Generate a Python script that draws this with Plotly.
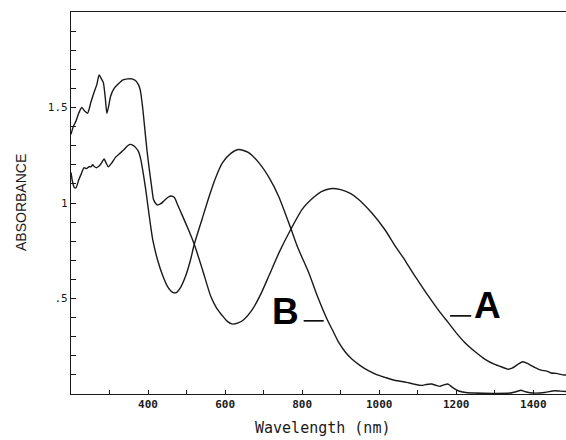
import plotly.graph_objects as go

# Curve A (broad band near 880 nm)
wl_a = [200, 206, 213, 220, 228, 236, 243, 252, 260, 267, 273, 279, 284, 289, 293, 297,
        303, 312, 321, 335, 347, 358, 368, 375, 380, 386, 391, 397, 403, 409, 414, 419,
        424, 432, 441, 452, 460, 468, 477, 490, 505, 520, 541, 563, 578, 593, 606, 619,
        634, 649, 670, 692, 714, 740, 770, 800, 830, 850, 873, 900, 925, 946, 980, 1015,
        1040, 1067, 1084, 1102, 1127, 1150, 1165, 1179, 1200, 1222, 1250, 1274, 1300, 1320,
        1334, 1345, 1360, 1373, 1385, 1395, 1403, 1420, 1435, 1446, 1460, 1477, 1490]
abs_a = [1.36, 1.40, 1.43, 1.47, 1.50, 1.48, 1.47, 1.53, 1.58, 1.62, 1.67, 1.65, 1.63, 1.55, 1.47, 1.50,
         1.56, 1.60, 1.62, 1.645, 1.65, 1.65, 1.64, 1.62, 1.59, 1.50, 1.40, 1.28, 1.18, 1.09, 1.02, 1.00,
         0.99, 0.995, 1.01, 1.03, 1.037, 1.03, 0.99, 0.93, 0.86, 0.784, 0.653, 0.51, 0.45, 0.41, 0.38, 0.366,
         0.372, 0.39, 0.44, 0.52, 0.62, 0.74, 0.86, 0.967, 1.03, 1.06, 1.075, 1.07, 1.05, 1.02, 0.95, 0.86,
         0.78, 0.70, 0.645, 0.59, 0.515, 0.45, 0.41, 0.375, 0.32, 0.27, 0.22, 0.183, 0.155, 0.14,
         0.13, 0.135, 0.155, 0.169, 0.16, 0.148, 0.14, 0.125, 0.12, 0.11, 0.108, 0.10, 0.10]

# Curve B (band near 640 nm)
wl_b = [200, 204, 209, 213, 220, 226, 234, 240, 247, 252, 256, 261, 267, 276, 286, 291, 297,
        306, 316, 327, 338, 347, 355, 362, 368, 375, 381, 388, 394, 400, 406, 412, 425, 438,
        450, 462, 472, 485, 498, 510, 520, 540, 559, 575, 593, 615, 636, 660, 688, 715, 740,
        770, 790, 817, 840, 865, 880, 895, 912, 929, 950, 972, 995, 1015, 1040, 1071,
        1090, 1110, 1122, 1136, 1148, 1158, 1168, 1179, 1190, 1205, 1225, 1248, 1300, 1340,
        1360, 1368, 1380, 1400, 1430, 1455, 1470, 1490]
abs_b = [1.16, 1.11, 1.08, 1.08, 1.12, 1.15, 1.185, 1.18, 1.19, 1.19, 1.20, 1.19, 1.185, 1.20, 1.23, 1.21, 1.19,
         1.21, 1.24, 1.26, 1.28, 1.30, 1.307, 1.30, 1.29, 1.27, 1.23, 1.15, 1.07, 0.98, 0.89, 0.81, 0.70, 0.62,
         0.565, 0.535, 0.53, 0.56, 0.62, 0.70, 0.784, 0.914, 1.037, 1.13, 1.21, 1.26, 1.28, 1.265, 1.21, 1.13, 1.03,
         0.87, 0.76, 0.636, 0.51, 0.39, 0.33, 0.27, 0.22, 0.183, 0.15, 0.122, 0.10, 0.087, 0.072, 0.061,
         0.052, 0.045, 0.05, 0.052, 0.045, 0.04, 0.048, 0.052, 0.035, 0.017, 0.008, 0.005, 0.003, 0.005,
         0.015, 0.02, 0.012, 0.005, 0.008, 0.017, 0.015, 0.012]

x_ticks = [300, 400, 500, 600, 700, 800, 900, 1000, 1100, 1200, 1300, 1400]
x_labels = ["", "400", "", "600", "", "800", "", "1000", "", "1200", "", "1400"]
y_ticks = [0.1, 0.2, 0.3, 0.4, 0.5, 0.6, 0.7, 0.8, 0.9, 1.0, 1.1, 1.2, 1.3, 1.4, 1.5, 1.6, 1.7, 1.8, 1.9]
y_labels = ["", "", "", "", ".5", "", "", "", "", "1", "", "", "", "", "1.5", "", "", "", ""]

ink = "#1a1a1a"
fig = go.Figure()
for wl, ab in [(wl_a, abs_a), (wl_b, abs_b)]:
    fig.add_trace(go.Scatter(x=wl, y=ab, mode="lines",
                             line=dict(color=ink, width=1.4, shape="spline", smoothing=0.6),
                             showlegend=False, hoverinfo="skip"))

mono = "DejaVu Sans Mono"
fig.update_layout(
    width=566, height=440,
    margin=dict(l=71, r=0, t=12, b=46),
    paper_bgcolor="white", plot_bgcolor="white",
    xaxis=dict(range=[200, 1485], tickmode="array", tickvals=x_ticks,
               ticktext=[f"<b>{t}</b>" if t else "" for t in x_labels],
               ticks="inside", ticklen=4, tickcolor=ink, showline=True, linecolor=ink, linewidth=1.2,
               mirror=True, showgrid=False, zeroline=False,
               tickfont=dict(family=mono, size=11, color=ink)),
    yaxis=dict(range=[0, 2], tickmode="array", tickvals=y_ticks, ticktext=y_labels,
               ticks="inside", ticklen=5, tickcolor=ink, showline=True, linecolor=ink, linewidth=1.2,
               showgrid=False, zeroline=False,
               tickfont=dict(family=mono, size=11, color=ink)),
    annotations=[
        dict(text="ABSORBANCE", xref="paper", yref="paper", x=0, y=0.5, xshift=-50,
             textangle=-90, showarrow=False, xanchor="center", yanchor="middle",
             font=dict(family="Liberation Sans", size=14, color=ink)),
        dict(text="Wavelength (nm)", xref="paper", yref="paper", x=0.509, y=0, yshift=-34,
             showarrow=False, xanchor="center", yanchor="middle",
             font=dict(family=mono, size=15, color=ink)),
        dict(text="<b>B</b>", xref="x", yref="y", x=757, y=0.431, showarrow=False,
             xanchor="center", yanchor="middle",
             font=dict(family="Liberation Sans", size=37, color="black")),
        dict(text="<b>A</b>", xref="x", yref="y", x=1280, y=0.465, showarrow=False,
             xanchor="center", yanchor="middle",
             font=dict(family="Liberation Sans", size=37, color="black")),
    ],
    shapes=[
        dict(type="line", xref="x", yref="y", x0=804, x1=856, y0=0.383, y1=0.383,
             line=dict(color="black", width=1.6)),
        dict(type="line", xref="x", yref="y", x0=1184, x1=1239, y0=0.409, y1=0.409,
             line=dict(color="black", width=1.6)),
    ],
)

fig.write_html("out.html", config={"displayModeBar": False},
               post_script="document.body.style.margin='0';document.body.style.overflow='hidden';")
